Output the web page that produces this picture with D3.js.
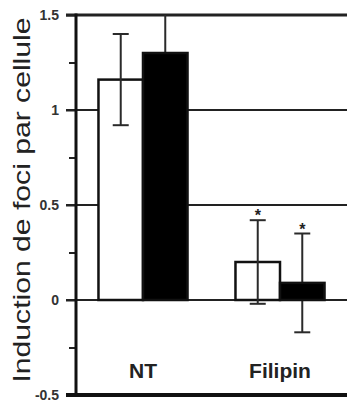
<!DOCTYPE html>
<html>
<head>
<meta charset="utf-8">
<script src="https://cdn.jsdelivr.net/npm/d3@7/dist/d3.min.js"></script>
<style>
  html, body { margin: 0; padding: 0; background: #fff; }
  svg { display: block; }
</style>
</head>
<body>
<svg id="chart" width="347" height="403"></svg>
<script>
// ---- data ----
const categories = ["NT", "Filipin"];
const seriesKeys = ["control", "filipin"];
const controlValues = [1.16, 0.20];
const controlErrors = [0.24, 0.22];
const treatedValues = [1.30, 0.09];
const treatedErrors = [0.25, 0.26];
const significant = [[false, false], [true, true]];
const majorTicks = [1.5, 1, 0.5, 0, -0.5];
const majorTickLabels = ["1.5", "1", "0.5", "0", "-0.5"];
const minorTicks = [1.25, 0.75, 0.25, -0.25];
const gridValues = [1.5, 1, 0.5, 0];
const yLabel = "Induction de foci par cellule";

(function () {
// ---- layout ----
const svg = d3.select("#chart");
const pLeft = 76, pRight = 347, pTop = 15, pBottom = 395;

const y = d3.scaleLinear().domain([-0.5, 1.5]).range([pBottom, pTop]);
const x0 = d3.scaleBand().domain(categories).range([pLeft, pRight])
  .paddingInner(0.35).paddingOuter(0.164);
const x1 = d3.scaleBand().domain(seriesKeys).range([0, x0.bandwidth()]).padding(0);

const rows = categories.map((c, i) => ({
  cat: c,
  bars: [
    { key: "control", v: controlValues[i], e: controlErrors[i], sig: significant[i][0], fill: "#fff" },
    { key: "filipin", v: treatedValues[i], e: treatedErrors[i], sig: significant[i][1], fill: "#000" }
  ]
}));

// gridlines
svg.append("g").selectAll("line").data(gridValues).join("line")
  .attr("x1", pLeft - 10).attr("x2", pRight)
  .attr("y1", d => y(d)).attr("y2", d => y(d))
  .attr("stroke", "#222")
  .attr("stroke-width", d => d === 1.5 ? 3 : 2);

const capW = 16;
function drawErrors(sel) {
  const eb = sel.append("g")
    .attr("transform", d => `translate(${x0(d.cat) + x1(d.key) + x1.bandwidth() / 2},0)`);
  eb.append("line")
    .attr("x1", 0).attr("x2", 0)
    .attr("y1", d => Math.max(pTop, y(d.v + d.e)))
    .attr("y2", d => y(d.v - d.e))
    .attr("stroke", "#2a2a2a")
    .attr("stroke-width", 2);
  eb.filter(d => y(d.v + d.e) > pTop).append("line")
    .attr("x1", -capW / 2).attr("x2", capW / 2)
    .attr("y1", d => y(d.v + d.e)).attr("y2", d => y(d.v + d.e))
    .attr("stroke", "#2a2a2a").attr("stroke-width", 2);
  eb.append("line")
    .attr("x1", -capW / 2).attr("x2", capW / 2)
    .attr("y1", d => y(d.v - d.e)).attr("y2", d => y(d.v - d.e))
    .attr("stroke", "#2a2a2a").attr("stroke-width", 2);
  eb.filter(d => d.sig).append("text")
    .attr("x", 0)
    .attr("y", d => y(d.v + d.e) + 1)
    .attr("text-anchor", "middle")
    .attr("font-family", "Liberation Sans, Arial, sans-serif")
    .attr("font-weight", "bold")
    .attr("font-size", 16)
    .attr("fill", "#222")
    .text("*");
}

const flat = rows.flatMap(r => r.bars.map(b => Object.assign({ cat: r.cat }, b)));

// error bars of the black series sit behind their bars
svg.append("g").selectAll("g").data(flat.filter(d => d.key === "filipin")).join(enter => {
  const s = enter.append("g"); drawErrors(s); return s;
});

// bars
svg.append("g").selectAll("rect").data(flat).join("rect")
  .attr("x", d => x0(d.cat) + x1(d.key))
  .attr("width", x1.bandwidth())
  .attr("y", d => y(Math.max(0, d.v)))
  .attr("height", d => Math.abs(y(d.v) - y(0)))
  .attr("fill", d => d.fill)
  .attr("stroke", "#111")
  .attr("stroke-width", 2.5);

// error bars of the white series drawn over their bars
svg.append("g").selectAll("g").data(flat.filter(d => d.key === "control")).join(enter => {
  const s = enter.append("g"); drawErrors(s); return s;
});

// y axis: major ticks
const yAxis = d3.axisLeft(y).tickValues(majorTicks)
  .tickSize(10).tickPadding(7)
  .tickFormat((d, i) => majorTickLabels[i]);
const ya = svg.append("g").attr("transform", `translate(${pLeft},0)`).call(yAxis);
ya.select(".domain").remove();
ya.selectAll(".tick line").attr("stroke", "#222").attr("stroke-width", 2);
ya.selectAll(".tick text")
  .attr("font-family", "Liberation Sans, Arial, sans-serif")
  .attr("font-weight", "bold")
  .attr("font-size", 14)
  .attr("fill", "#333");

// minor ticks
const yMinor = d3.axisLeft(y).tickValues(minorTicks).tickSize(7).tickFormat("");
const ym = svg.append("g").attr("transform", `translate(${pLeft},0)`).call(yMinor);
ym.select(".domain").remove();
ym.selectAll(".tick line").attr("stroke", "#222").attr("stroke-width", 2);

// axis lines
svg.append("line")
  .attr("x1", pLeft).attr("x2", pLeft)
  .attr("y1", y(1.5) - 1.5).attr("y2", y(-0.5) + 2)
  .attr("stroke", "#111").attr("stroke-width", 3);
svg.append("line")
  .attr("x1", pLeft - 10).attr("x2", pRight)
  .attr("y1", y(-0.5)).attr("y2", y(-0.5))
  .attr("stroke", "#111").attr("stroke-width", 4);

// category labels
svg.append("g").selectAll("text").data(categories).join("text")
  .attr("x", d => x0(d) + x0.bandwidth() / 2)
  .attr("y", 378)
  .attr("text-anchor", "middle")
  .attr("font-family", "Liberation Sans, Arial, sans-serif")
  .attr("font-weight", "bold")
  .attr("font-size", 21)
  .attr("fill", "#222")
  .text(d => d);

// y label
svg.append("text")
  .attr("transform", "translate(30,200) rotate(-90)")
  .attr("text-anchor", "middle")
  .attr("font-family", "Liberation Sans, Arial, sans-serif")
  .attr("font-size", 24)
  .attr("fill", "#222")
  .attr("textLength", 365)
  .attr("lengthAdjust", "spacingAndGlyphs")
  .text(yLabel);
})();
</script>
</body>
</html>
